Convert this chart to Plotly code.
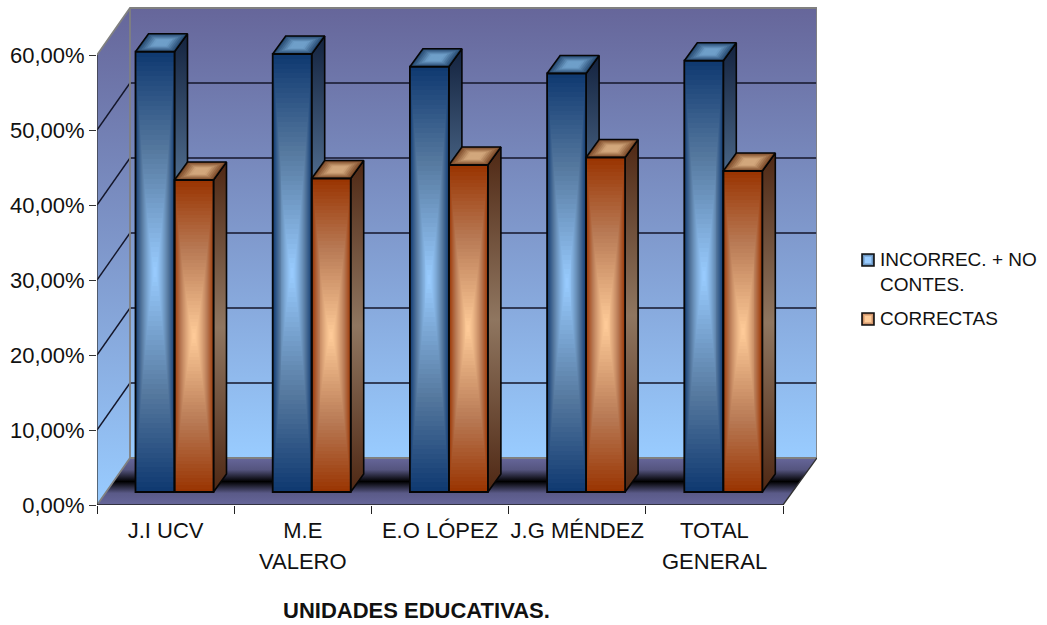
import plotly.graph_objects as go

# ---- data -----------------------------------------------------------------
categories = ["J.I UCV", "M.E", "E.O LÓPEZ", "J.G MÉNDEZ", "TOTAL"]
second_line = ["", "VALERO", "", "", "GENERAL"]
incorrectas = [58.7, 58.4, 56.7, 55.8, 57.5]
correctas = [41.6, 41.8, 43.6, 44.6, 42.8]
y_ticks = [0, 10, 20, 30, 40, 50, 60]
y_ticktext = ["0,00%", "10,00%", "20,00%", "30,00%", "40,00%", "50,00%", "60,00%"]
series_names = ["INCORREC. + NO CONTES.", "CORRECTAS"]

# ---- geometry (pixels on the page) ----------------------------------------
L, R, T, B = 97, 817, 7, 505
PX_X = 137.2      # pixels per category
PX_Y = 7.5        # pixels per percentage point
WALL_DX, WALL_DY = 33 / PX_X, 47 / PX_Y
BAR_X0 = 38.5 / PX_X
BAR_W = 39 / PX_X
BAR_BASE = 13 / PX_Y
TOP_DX, TOP_DY = 13 / PX_X, 18 / PX_Y
W, H = 1047, 625
x_max = (R - L) / PX_X
y_max = (B - T) / PX_Y


def paper_x(px):
    return (px - L) / (R - L)


def paper_y(py):
    return (B - py) / (B - T)


def hex_rgb(c):
    return tuple(int(c[i:i + 2], 16) for i in (1, 3, 5))


def lerp(a, b, t):
    ra, rb = hex_rgb(a), hex_rgb(b)
    return "rgb(%d,%d,%d)" % tuple(round(p + (q - p) * t) for p, q in zip(ra, rb))


fig = go.Figure()


def poly(xs, ys, **kw):
    fig.add_trace(go.Scatter(x=list(xs), y=list(ys), mode=kw.pop("mode", "lines"),
                             hoverinfo="skip", showlegend=False, cliponaxis=False, **kw))


def seg(x0, y0, x1, y1, color, width):
    poly([x0, x1], [y0, y1], line=dict(color=color, width=width))


WALL_TOP, WALL_BOT = "#66669a", "#99ccff"
wall_scale = [[0, WALL_BOT], [1, WALL_TOP]]
NO_LINE = dict(width=0)

# back wall
poly([WALL_DX, x_max, x_max, WALL_DX, WALL_DX],
     [WALL_DY, WALL_DY, y_ticks[-1] + WALL_DY, y_ticks[-1] + WALL_DY, WALL_DY],
     fill="toself", fillgradient=dict(type="vertical", colorscale=wall_scale), line=NO_LINE)
# side wall
poly([0, WALL_DX, WALL_DX, 0, 0],
     [0, WALL_DY, y_ticks[-1] + WALL_DY, y_ticks[-1], 0],
     fill="toself", fillgradient=dict(type="vertical", colorscale=wall_scale), line=NO_LINE)
# floor
floor_x_end = len(categories)
poly([0, floor_x_end, x_max, WALL_DX, 0], [0, 0, WALL_DY, WALL_DY, 0],
     fill="toself",
     fillgradient=dict(type="vertical",
                       colorscale=[[0, "#66669a"], [0.25, "#5a5a88"], [0.5, "#000000"],
                                   [0.75, "#55557f"], [1, "#66669a"]]),
     line=NO_LINE)
# grid
GRID = "#14162a"
for v in y_ticks[1:-1]:
    seg(0, v, WALL_DX, v + WALL_DY, GRID, 1.4)
    seg(WALL_DX, v + WALL_DY, x_max, v + WALL_DY, GRID, 1.4)
# wall borders
EDGE = "#808080"
poly([0, WALL_DX, x_max, x_max, WALL_DX, WALL_DX, WALL_DX, 0],
     [y_ticks[-1], y_ticks[-1] + WALL_DY, y_ticks[-1] + WALL_DY, WALL_DY, WALL_DY,
      y_ticks[-1] + WALL_DY, WALL_DY, 0],
     line=dict(color=EDGE, width=1.8))
seg(floor_x_end, 0, x_max, WALL_DY, "#303030", 1.3)
# axis lines
seg(0, 0, 0, y_ticks[-1], "#333333", 1.3)
seg(0, 0, floor_x_end, 0, "#222222", 1.5)

# ---- bar side and top faces ----------------------------------------------
BLUE = dict(edge="#0e3870", low="#56799f", mid="#99ccff", side_dark="#14233f", side_mid="#6f94b8",
            top_edge="#264a72", top_mid="#6f9fc9")
ORANGE = dict(edge="#993300", low="#b87a55", mid="#ffcc99", side_dark="#4f2814", side_mid="#8f7660",
              top_edge="#7c4a28", top_mid="#d2a77c")
LEVELS = 9


def side_and_top(x0, value, st):
    x1 = x0 + BAR_W
    y0, y1 = BAR_BASE, BAR_BASE + value
    poly([x1, x1 + TOP_DX, x1 + TOP_DX, x1, x1],
         [y0, y0 + TOP_DY, y1 + TOP_DY, y1, y0],
         fill="toself", line=dict(color="#050505", width=1.6),
         fillgradient=dict(type="vertical",
                           colorscale=[[0, st["side_dark"]], [0.5, st["side_mid"]], [1, st["side_dark"]]]))
    cx, cy = x0 + BAR_W / 2 + TOP_DX / 2, y1 + TOP_DY / 2
    corners = [(x0, y1), (x1, y1), (x1 + TOP_DX, y1 + TOP_DY), (x0 + TOP_DX, y1 + TOP_DY), (x0, y1)]
    for i in range(LEVELS):
        s = 1 - i / LEVELS
        poly([cx + (p[0] - cx) * s for p in corners], [cy + (p[1] - cy) * s for p in corners],
             fill="toself", fillcolor=lerp(st["top_edge"], st["top_mid"], min(1, i / (LEVELS * 0.6))),
             line=NO_LINE)
    poly([p[0] for p in corners], [p[1] for p in corners], line=dict(color="#050505", width=1.6))


for i in range(len(categories)):
    x0 = i + BAR_X0
    side_and_top(x0, incorrectas[i], BLUE)
    side_and_top(x0 + BAR_W, correctas[i], ORANGE)

# ---- bar front faces (overlay subplot, drawn above everything above) -------
NX, NY = 40, 90


def front(x0, value, st):
    xe = [x0 + BAR_W * k / NX for k in range(NX + 1)]
    ye = [BAR_BASE + value * k / NY for k in range(NY + 1)]
    z = []
    for j in range(NY):
        v = abs((j + 0.5) / NY * 2 - 1)
        z.append([max(abs((k + 0.5) / NX * 2 - 1) ** 1.4, v) for k in range(NX)])
    fig.add_trace(go.Heatmap(x=xe, y=ye, z=z, zmin=0, zmax=1, showscale=False, hoverinfo="skip",
                             colorscale=[[0, st["mid"]], [0.55, st["low"]], [1, st["edge"]]],
                             xaxis="x2", yaxis="y2"))


for i in range(len(categories)):
    front(i + BAR_X0, incorrectas[i], BLUE)
    front(i + BAR_X0 + BAR_W, correctas[i], ORANGE)

for k, (vals, name) in enumerate(zip([incorrectas, correctas], series_names)):
    fig.add_trace(go.Bar(x=[i + BAR_X0 + BAR_W * (k + 0.5) for i in range(len(categories))],
                         y=vals, base=[BAR_BASE] * len(vals), width=BAR_W, name=name,
                         marker=dict(color="rgba(0,0,0,0)", line=dict(color="#050505", width=1.8)),
                         xaxis="x2", yaxis="y2", showlegend=False,
                         hovertemplate="%{y:.2f}%<extra>" + name + "</extra>"))

# ---- layout -----------------------------------------------------------------
FONT = "Liberation Sans"
TXT = "#111111"
annotations = []
for i, t in enumerate(second_line):
    if t:
        annotations.append(dict(x=paper_x(L + (i + 0.5) * PX_X), y=paper_y(561), xref="paper", yref="paper",
                                text=t, showarrow=False, xanchor="center", yanchor="middle",
                                font=dict(family=FONT, size=22, color=TXT)))
annotations.append(dict(x=paper_x(416), y=paper_y(610), xref="paper", yref="paper",
                        text="<b>UNIDADES EDUCATIVAS.</b>", showarrow=False, xanchor="center", yanchor="middle",
                        font=dict(family=FONT, size=22, color=TXT)))
for t, py in [("INCORREC. + NO", 259), ("CONTES.", 284), ("CORRECTAS", 318)]:
    annotations.append(dict(x=paper_x(878), y=paper_y(py), xref="paper", yref="paper", text=t,
                            showarrow=False, xanchor="left", yanchor="middle",
                            font=dict(family=FONT, size=19, color=TXT)))

shapes = []


def swatch(x0, y0, size, st):
    for i in range(6):
        d = size / 2 * i / 6
        shapes.append(dict(type="rect", xref="paper", yref="paper",
                           x0=paper_x(x0 + d), x1=paper_x(x0 + size - d),
                           y0=paper_y(y0 + size - d), y1=paper_y(y0 + d),
                           fillcolor=lerp(st["low"], st["mid"], i / 3 if i < 3 else 1),
                           line=dict(color="#101010", width=1.6) if i == 0 else dict(width=0)))


swatch(862, 254, 12, BLUE)
swatch(862, 313, 12, ORANGE)

fig.update_layout(
    width=W, height=H, margin=dict(l=L, r=W - R, t=T, b=H - B, pad=0),
    paper_bgcolor="#ffffff", plot_bgcolor="rgba(0,0,0,0)", showlegend=False, barmode="overlay",
    annotations=annotations, shapes=shapes, font=dict(family=FONT, size=22, color=TXT),
    xaxis=dict(range=[0, x_max], tickmode="array",
               tickvals=[i + 0.5 for i in range(len(categories))], ticktext=categories,
               ticks="", showgrid=False, zeroline=False, showline=False,
               ticklabelstandoff=10, fixedrange=True,
               minor=dict(tick0=0, dtick=1, ticks="outside", ticklen=8, tickwidth=1.3, tickcolor="#222222",
                          showgrid=False),
               tickfont=dict(family=FONT, size=22, color=TXT)),
    yaxis=dict(range=[0, y_max], tickmode="array", tickvals=y_ticks, ticktext=y_ticktext,
               ticks="outside", ticklen=7, tickwidth=1.3, tickcolor="#333333",
               showgrid=False, zeroline=False, showline=False, fixedrange=True,
               tickfont=dict(family=FONT, size=22, color=TXT)),
    xaxis2=dict(range=[0, x_max], overlaying="x", visible=False, fixedrange=True),
    yaxis2=dict(range=[0, y_max], overlaying="y", visible=False, fixedrange=True),
)

fig.write_html("out.html", config={"displayModeBar": False},
               post_script="document.body.style.margin='0';")
